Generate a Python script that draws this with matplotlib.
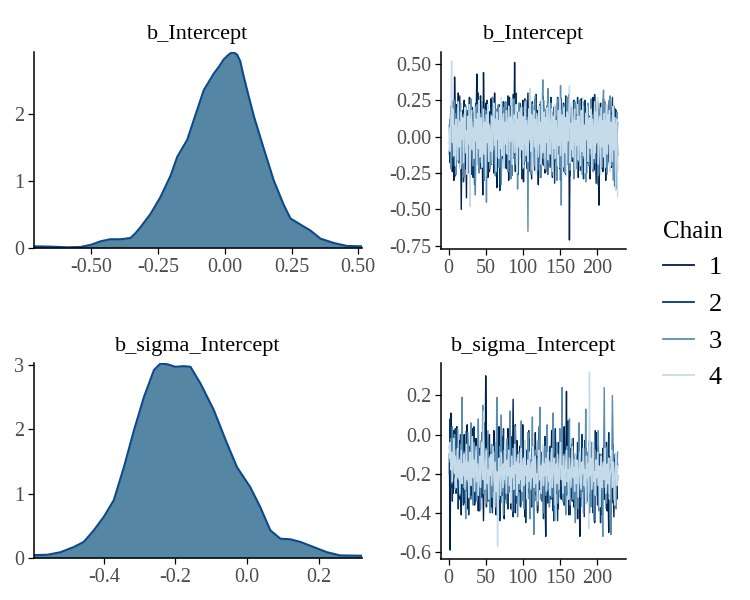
import numpy as np
import matplotlib
matplotlib.use("Agg")
import matplotlib.pyplot as plt
from matplotlib.lines import Line2D

plt.rcParams['font.family'] = ['Liberation Serif', 'DejaVu Serif']

params = ["b_Intercept", "b_sigma_Intercept"]
chains = ["1", "2", "3", "4"]
chain_colors = ["#011f4b", "#03396c", "#5a8db0", "#c6dbea"]

# density curves
dens1_x = [-0.715, -0.65, -0.59, -0.54, -0.50, -0.465, -0.43, -0.39, -0.353, -0.335, -0.316,
           -0.278, -0.241, -0.203, -0.178, -0.141, -0.116, -0.079, -0.041, -0.022, -0.004,
           0.009, 0.021, 0.034, 0.046, 0.058, 0.071, 0.090, 0.109, 0.146, 0.183, 0.221,
           0.246, 0.283, 0.321, 0.358, 0.408, 0.458, 0.514]
dens1_y = [0.025, 0.02, 0.01, 0.015, 0.05, 0.10, 0.13, 0.13, 0.15, 0.22, 0.31,
           0.51, 0.76, 1.08, 1.36, 1.61, 1.91, 2.35, 2.60, 2.70, 2.81,
           2.86, 2.90, 2.91, 2.88, 2.78, 2.55, 2.25, 1.96, 1.48, 1.01, 0.64,
           0.44, 0.35, 0.26, 0.14, 0.075, 0.03, 0.025]
dens2_x = [-0.595, -0.558, -0.521, -0.484, -0.456, -0.428, -0.40, -0.372, -0.344, -0.316, -0.288,
           -0.26, -0.242, -0.223, -0.20, -0.177, -0.158, -0.130, -0.093, -0.056, -0.028, 0.009,
           0.037, 0.065, 0.093, 0.121, 0.149, 0.186, 0.223, 0.260, 0.321]
dens2_y = [0.045, 0.05, 0.09, 0.17, 0.25, 0.43, 0.64, 0.90, 1.41, 1.98, 2.50,
           2.92, 3.02, 3.01, 2.97, 2.98, 2.97, 2.71, 2.30, 1.78, 1.41, 1.10,
           0.79, 0.43, 0.30, 0.29, 0.25, 0.17, 0.09, 0.04, 0.035]

# trace values (hundredths)
int_c1 = [-12, 5, 21, -8, -24, 14, -30, 41, 8, -15, 22, -6, 30, -18, 3, 12, -50, 7, 18,
          -10, 25, -22, 9, -42, 16, 2, -14, 27, -5, -26, 11, 20, -9, 4, -33, 15, 8, 43,
          -7, 19, -21, 6, 28, -12, 1, -40, 44, 10, -16, 23, -3, 14, -28, 5, 17, -11, 26,
          -19, 8, 12, -25, 30, -4, 16, -35, 9, 21, -13, 2, 18, -27, 11, -6, 24, -15, 7,
          20, -22, 3, 13, -30, 27, -8, 15, -18, 6, 29, -12, 51, -3, -20, 14, 9, -26, 22,
          -9, 17, -14, 4, 25, -31, 10, -5, 19, -17, 8, 30, -24, 12, -2, 16, -29, 21, -7,
          13, -20, 26, 1, -15, 18, -33, 9, 22, -11, 5, -19, 28, -6, 14, -25, 3, 19, -13,
          24, -8, 11, -21, 7, 17, -28, 15, -4, 21, -16, 9, -23, 27, 2, -12, 18, -30, 6,
          14, -19, 23, -7, 10, -26, 16, 4, -13, 29, -71, 12, -9, 20, -17, 8, 25, -22, 3,
          15, -11, 22, -28, 6, 18, -5, 26, -20, 11, -14, 24, -2, 17, -25, 9, 21, -18, 4,
          -29, 13, 19, -10, 27, -23, 7, 16, -32, 12, -6, 20, -47, 10, 23, -15, 5, -24, 18,
          -8, 14, -30, 22, 3, -17, 11, 25, -12, 6, -21, 17, -9, 13, -27, 19, -4, 16, -13]
int_c2 = [8, -18, 13, -5, 24, -20, 10, 3, -27, 16, -9, 20, -14, 6, 28, -22, 11, -3, 17,
          -31, 9, 22, -12, 4, 18, -25, 13, -7, 26, -16, 2, 19, -28, 8, 15, -10, 23, -19,
          5, 30, -13, 12, -22, 7, 21, -8, 16, -30, 10, 3, -17, 25, -6, 14, -24, 9, 20,
          -14, 27, -3, 11, -20, 18, 6, -26, 15, -9, 22, -37, 12, 1, 17, -15, 24, -8, 10,
          -21, 16, 4, 28, -18, 9, -12, 21, -27, 13, 2, -10, 19, -24, 30, -5, 14, -16, 8,
          23, -13, 11, -29, 17, 5, -19, 26, -8, 12, -22, 20, 3, -15, 18, -26, 10, 24, -11,
          7, -23, 15, 29, -6, 13, -18, 9, 22, -28, 4, 16, -12, 25, -20, 11, 1, -14, 21,
          -26, 19, 6, -9, 27, -17, 12, -4, 20, -32, 14, 8, -15, 23, -7, 18, -22, 10, 26,
          -13, 5, 17, -24, 11, 28, -10, 15, -19, 7, 22, -27, 13, -3, 19, -16, 9, 24, -21,
          12, -6, 27, -14, 18, 2, -23, 16, -9, 21, -29, 10, 25, -12, 6, -18, 20, -7, 14,
          -25, 22, 8, -11, 17, -20, 29, -4, 12, -16, 24, -33, 15, 3, -9, 19, -22, 11, 26,
          -15, 7, 20, -26, 13, -5, 18, -19, 23, -10, 9, 27, -13, 16, -34, 12, 18, -7, 10]
int_c3 = [-5, 12, -22, 18, 3, -14, 25, -9, 16, -26, 7, 20, -17, 11, -4, 23, -19, 6, -11,
          15, -28, 9, 21, -8, 14, -23, 4, 19, -13, 26, -6, 10, -20, 17, 2, -40, 12, 22,
          -10, 8, -25, 16, 3, -18, 24, -7, 13, -30, 11, 18, -45, 6, 21, -12, 9, -22, 15,
          4, -16, 27, -9, 12, -27, 19, 1, -14, 22, -21, 8, 16, -33, 13, -5, 20, -17, 10,
          24, -11, 7, -24, 18, -3, 14, -29, 21, 5, -15, 26, -8, 11, -19, 17, -36, 9, 23,
          -12, 15, -6, 20, -22, 10, 3, -17, 25, -9, 13, -65, 19, -4, 16, -26, 8, 22, -14,
          11, -20, 28, -7, 14, -23, 6, 18, -12, 24, -28, 9, 39, -15, 20, -5, 12, -24, 17,
          33, -18, 10, -9, 23, -27, 15, 2, -16, 21, -11, 8, -30, 26, -4, 13, -21, 35, -47,
          18, -13, 7, 22, -25, 12, -6, 27, -19, 9, 16, -23, 4, 20, -14, 11, -29, 24, -8,
          14, -22, 19, 3, -17, 25, -10, 12, -26, 8, 21, -15, 6, -31, 17, -3, 23, -20, 10,
          -12, 26, -7, 15, -24, 9, 20, -18, 13, -5, 22, -27, 11, 18, -14, 7, -21, 16, 32,
          -9, 24, -16, 12, -25, 6, 19, -11, 28, -20, 8, 15, -30, 21, -6, 13, -36, 17, -23]
int_c4 = [6, -10, 15, 52, -4, 19, -13, 8, -20, 12, 2, -16, 24, -7, 10, -22, 17, -2, 13,
          -18, 9, 20, -11, 4, -26, 14, -5, 22, -48, 11, 18, -9, 6, -15, 21, -3, 12, -20,
          16, -8, 25, -14, 7, 13, -21, 3, 19, -12, 10, -27, 15, -4, 22, -17, 8, 1, -10,
          14, -19, 9, 23, -6, 12, -24, 17, -2, 11, -15, 20, -8, 27, -13, 5, 16, -22, 10,
          -5, 18, -12, 7, 21, -16, 13, -3, 26, -19, 9, 15, -11, 4, 22, -25, 12, -7, 17,
          -14, 8, 20, -9, 14, -21, 3, 24, -13, 11, 6, -17, 19, -2, 33, -10, 15, -23, 9,
          18, -7, 12, -26, 16, 2, -14, 21, -5, 10, -19, 25, -11, 7, 17, -22, 13, -4, 20,
          -16, 9, 23, -12, 5, 19, -24, 14, -8, 22, -15, 11, 3, -20, 18, -6, 26, -13, 10,
          15, -21, 8, 20, -11, 13, -27, 17, -3, 12, 35, -18, 9, -9, 24, -14, 6, 19, -23,
          11, -6, 22, -16, 14, 4, -20, 18, -10, 27, -13, 8, -25, 16, -2, 21, -17, 10, 13,
          -8, 19, -22, 12, 5, -15, 24, -11, 17, -4, 27, -19, 9, 14, -26, 20, -7, 11, -14,
          16, -21, 8, 22, -12, 15, -5, 18, -24, 10, 3, -17, 21, -9, 13, -37, 7, 12, -41]

sig_c1 = [-10, -59, 11, -25, -5, -30, 2, -18, -8, -27, 4, -22, -14, -33, -3, -20, -41, -9, -16,
          -28, 0, -35, -12, -21, 5, -38, -15, -24, -6, -31, -19, 3, -26, -11, -36, -17, -2, -29,
          -13, -39, -7, -23, -16, -32, 1, -20, -44, -10, -27, 30, -4, -18, -34, -12, 0, -25, -15,
          -37, -9, -22, 2, -30, -14, -41, -6, -19, -28, 4, -12, -35, -21, -1, -26, -16, -43, -8,
          -24, -11, -33, 3, -18, -29, -7, -38, -15, -22, 18, -27, -10, -40, -19, -3, -31, -14, -25,
          -6, -36, -17, -23, 5, -30, -12, -42, -20, -9, -27, -16, -2, -33, -21, -13, -37, -8, -26,
          -15, -31, 1, -22, -11, -39, -18, -5, -28, -14, -24, -34, -7, -20, -10, -29, -52, -17, -3,
          -26, -13, -35, -9, -21, 2, -32, -16, -44, -11, -23, -6, -30, -19, -38, -4, -25, -14, -33,
          -8, -27, -18, 4, -36, -22, 22, -30, -12, -41, -15, -24, -7, -32, -19, -2, -37, -26, -10,
          -29, -16, -43, -5, -22, -52, -13, -31, -8, -25, -18, -38, -3, -27, -14, -34, -20, -9, -40,
          -17, -26, -6, -35, -21, -12, -45, -19, 1, -30, -15, -24, -37, -10, -28, -18, -41, -7, -23,
          -33, -14, -27, -4, -39, -20, -50, -11, -29, -16, -35, -8, -25, -42, -13, -31, -19, -33, -21]
sig_c2 = [-20, 8, -27, -12, -34, -5, -22, -15, 3, -30, -18, -9, -38, -14, -25, 0, -32, -11, -21,
          -36, -8, -24, -16, 2, -29, -13, -41, -19, -6, -33, -22, -10, -27, 4, -35, -17, -25, -12,
          -30, -3, -21, -39, -14, -26, -7, -32, -18, 6, -28, -11, -37, -20, -15, -2, -34, -23, -9,
          -25, -40, -13, -29, -4, -19, -35, -16, 0, -27, -12, -44, -21, -8, -31, -18, 3, -26, -14,
          -33, -10, -22, -38, -6, -28, -17, -1, -30, -20, -42, -12, -25, 5, -35, -15, -23, -9, -29,
          -19, -37, -11, -26, -3, -32, -21, -14, -45, -8, -24, -17, 2, -30, -13, -36, -20, -7, -28,
          -16, -34, -5, -23, -12, -40, -18, 4, -27, -14, -31, -9, -22, -43, -15, -1, -29, -20, -11,
          -35, -17, -26, -6, -33, -12, -24, -39, -10, -21, 3, -30, -16, -44, -13, -25, -8, -32, -19,
          -2, -28, -14, -36, -21, -9, -31, -18, 7, -26, -13, -41, -20, -5, -34, -16, -24, -11, -38,
          -15, -27, -4, -32, -19, -10, -37, -22, 0, -29, -14, -42, -17, -7, -33, -21, -12, -26, -3,
          -35, -18, -24, -9, -40, -15, -28, 2, -21, -13, -36, -6, -30, -19, -45, -11, -25, -16, -33,
          -8, -27, -20, -38, -12, -23, 1, -31, -17, -46, -14, -26, -5, -34, -19, -10, -29, -22, -15]
sig_c3 = [-6, -14, -2, -25, 4, -19, -11, 0, -28, -8, -17, 3, -23, -12, -31, -5, -20, 19, -15,
          -27, -9, -18, -43, -7, -24, 1, -16, -33, -10, 6, -22, -13, -36, -4, -29, -17, -8, -34,
          -19, 8, -26, -12, -38, -3, -21, 15, -30, -14, -24, -7, -35, -16, 2, -28, -11, -40, -20,
          -5, -32, -15, -24, -9, -37, -18, 19, -27, -13, -33, -6, -22, 10, -29, -17, -41, -8, -25,
          -14, -35, -2, -21, -30, -11, 12, -26, -19, -39, -7, -23, -16, 4, -31, -12, -42, -20, -9,
          -28, -15, 7, -34, -22, -13, -38, -4, -25, -18, -32, 1, -27, -10, -43, -21, -14, 9, -30,
          -51, -17, -8, -29, -20, -36, -3, -24, 14, -33, -15, -26, -11, -40, -19, -6, -31, -22, 5,
          -28, -13, -37, -20, -9, -32, -16, 11, -25, -44, -12, -23, -4, -35, -18, -29, 3, -21, -14,
          24, -34, -19, -10, -27, -41, -15, -6, -30, -22, 8, -36, -17, -26, -2, -33, -13, -24, -45,
          -11, -29, -18, -38, 6, -25, -14, -32, -21, -7, -40, -16, -27, 13, -35, -19, -9, -30, -23,
          -12, -37, -4, -26, -17, -44, -20, -8, -31, -15, -24, 2, -39, -18, -28, -10, -33, -52, -13,
          24, -27, -16, -35, -6, -22, -30, -12, -41, -51, -19, 20, -8, -33, -25, -14, -38, -21, -9]
sig_c4 = [-12, -4, -18, -9, -24, -14, -2, -20, -11, -27, -16, -7, -22, -13, -30, -19, -8, -25, -15,
          -21, -10, -28, -17, -5, -23, -14, -32, -19, -9, -26, -16, -1, -22, -13, -29, -18, -6, -24,
          -15, -31, -20, -11, -27, -17, -4, -23, 12, -19, -28, -14, -8, -25, -18, -33, -12, -21, -10,
          -26, -16, -6, -22, -37, -14, -29, -19, -57, -24, -12, -20, -31, -9, -17, -27, -15, -23, -4,
          -19, -30, -13, -21, -8, -26, -17, -35, -11, -22, -16, -28, -5, -20, -14, -31, -18, -10, -25,
          -15, -23, -7, -29, -18, -12, -26, -3, -21, -16, -33, -13, -24, -9, -19, -28, -14, -22, -6,
          -27, -17, -11, -25, -20, -34, -13, -8, -23, -16, -30, -19, -5, -26, -15, -21, -12, -29, -18,
          -9, -24, -14, -31, -20, -7, -27, -17, -12, -22, -36, -15, -25, -10, -19, -28, -13, -4, -23,
          -16, -30, -11, -21, -26, -14, -8, -24, -18, -33, -12, -20, -27, -15, -6, -22, -17, -29, -10,
          -25, -13, -19, -32, -16, -9, -23, -28, -14, -20, -7, -26, -18, -35, -11, -22, -15, -48, 32,
          -21, -12, -28, -17, -4, -24, -19, -31, -13, -22, -9, -26, -16, -37, -20, -11, -27, -18, -14,
          -23, -7, -30, -19, -15, -25, -12, -33, -21, -17, -8, -27, -14, -22, -36, -18, -10, -26, -16]

dens_x = [dens1_x, dens2_x]
dens_y = [dens1_y, dens2_y]
traces = [[int_c1, int_c2, int_c3, int_c4], [sig_c1, sig_c2, sig_c3, sig_c4]]
dens_yticks = [[0, 1, 2], [0, 1, 2, 3]]
dens_xticks = [[-0.50, -0.25, 0.00, 0.25, 0.50], [-0.4, -0.2, 0.0, 0.2]]
dens_xfmt = ["{:.2f}", "{:.1f}"]
trace_yticks = [[-0.75, -0.50, -0.25, 0.00, 0.25, 0.50], [-0.6, -0.4, -0.2, 0.0, 0.2]]
trace_xticks = [0, 50, 100, 150, 200]

W, H = 750, 600
fig = plt.figure(figsize=(7.5, 6), dpi=100)

def add_ax(l, r, t, b):
    return fig.add_axes([l / W, 1 - b / H, (r - l) / W, (b - t) / H])

fill_col = "#5586a3"
line_col = "#0b4a8a"
tick_col = "#4d4d4d"

def style(ax):
    for s in ["top", "right"]:
        ax.spines[s].set_visible(False)
    for s in ["left", "bottom"]:
        ax.spines[s].set_linewidth(1.1)
        ax.spines[s].set_color("black")
    ax.tick_params(axis="both", length=4, width=0.9, color="black",
                   labelsize=14.5, labelcolor=tick_col, pad=3)

rows = [(52, 248), (363, 558)]
for i in range(2):
    t, b = rows[i]
    # density
    ax = add_ax(34, 362, t, b)
    x = np.array(dens_x[i]); y = np.array(dens_y[i])
    ax.fill_between(x, 0, y, color=fill_col, lw=0)
    ax.plot(x, y, color=line_col, lw=1.5, solid_joinstyle="round")
    ax.set_xlim(x.min(), x.max())
    ax.set_ylim(0, y.max() * 1.003)
    ax.set_yticks(dens_yticks[i])
    ax.set_xticks(dens_xticks[i])
    ax.set_xticklabels([dens_xfmt[i].format(v) for v in dens_xticks[i]])
    style(ax)
    ax.set_title(params[i], fontsize=16, pad=9)

    # trace
    ax2 = add_ax(441, 626, t, b + 1)
    allv = []
    for c in range(4):
        v = np.array(traces[i][c]) / 100.0
        allv.append(v)
        it = np.arange(1, len(v) + 1)
        ax2.plot(it, v, color=chain_colors[c], lw=1.0)
    allv = np.concatenate(allv)
    n = len(traces[i][0])
    ax2.set_xlim(1 - 0.05 * (n - 1), n + 0.05 * (n - 1))
    rng = allv.max() - allv.min()
    ax2.set_ylim(allv.min() - 0.05 * rng, allv.max() + 0.05 * rng)
    ax2.set_yticks(trace_yticks[i])
    ax2.set_yticklabels([dens_xfmt[i].format(v) for v in trace_yticks[i]])
    ax2.set_xticks(trace_xticks)
    style(ax2)
    ax2.set_title(params[i], fontsize=16, pad=9)

handles = [Line2D([0], [0], color=chain_colors[c], lw=1.3) for c in range(4)]
leg = fig.legend(handles, chains, title="Chain", loc="upper left",
                 bbox_to_anchor=(639 / W, 1 - 197 / H), frameon=False,
                 fontsize=19, title_fontsize=18, handlelength=1.2,
                 handletextpad=0.55, labelspacing=0.5, alignment="left")

fig.savefig("out.png", dpi=100, facecolor="white")
